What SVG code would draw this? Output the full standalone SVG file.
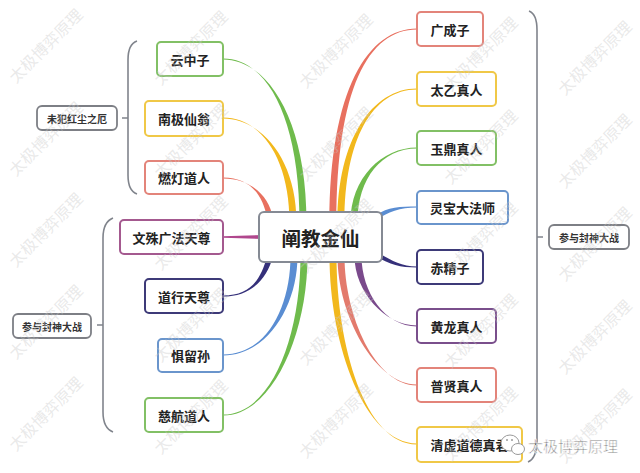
<svg xmlns="http://www.w3.org/2000/svg" width="640" height="473" viewBox="0 0 640 473">
<style>
.box{fill:#fff;stroke-width:2}
.t{font-family:"Noto Sans CJK SC","Noto Sans",sans-serif;font-weight:bold;font-size:13px;fill:#222;text-anchor:middle;dominant-baseline:central}
.lb{fill:#fff;stroke:#7d7f85;stroke-width:1.8}
.lt{font-family:"Noto Sans CJK SC","Noto Sans",sans-serif;font-weight:bold;font-size:10px;fill:#333;text-anchor:middle;dominant-baseline:central}
.br{fill:none;stroke:#80848c;stroke-width:1.6}
.wm{font-family:"Noto Sans CJK SC",sans-serif;font-size:16px;fill:#c8c8c8;fill-opacity:0.4;text-anchor:middle;dominant-baseline:central}
.g{stroke:#82c065}.y{stroke:#f0c847}.r{stroke:#e3847a}.m{stroke:#a4598f}.nv{stroke:#3d3a78}.b{stroke:#6a95cc}.p{stroke:#7a4f8c}
</style>
<rect width="640" height="473" fill="#fff"/>
<g id="connectors">
<path fill="#6fbb4c" d="M223,58.5 C268,58.5 299.5,120 299.5,222 L306.5,222 C306.5,120 268,59.5 223,59.5 Z"/>
<path fill="#f2b81c" d="M223,117.5 C262,117.5 289.5,160 289.5,222 L296.5,222 C296.5,160 262,118.5 223,118.5 Z"/>
<path fill="#e8705f" d="M223,177.5 C250,177.5 263,195 267,218 L273,218 C269,195 250,178.5 223,178.5 Z"/>
<path fill="#b0478d" d="M223,236.3 L265,235 L265,239 L223,237.7 Z"/>
<path fill="#35307a" d="M223,295.5 C250,295.5 261,280 267,256 L273,256 C267,280 250,296.5 223,296.5 Z"/>
<path fill="#5a8dd2" d="M223,354.5 C268,354.5 290.5,305 290.5,256 L297.5,256 C297.5,305 268,355.5 223,355.5 Z"/>
<path fill="#6fbb4c" d="M223,414.5 C272,414.5 300.5,335 300.5,256 L307.5,256 C307.5,335 272,415.5 223,415.5 Z"/>
<path fill="#e8705f" d="M417,28.5 C368,28.5 329.5,90 329.5,222 L336.5,222 C336.5,90 368,29.5 417,29.5 Z"/>
<path fill="#f2b81c" d="M417,88.5 C372,88.5 337.5,140 337.5,222 L344.5,222 C344.5,140 372,89.5 417,89.5 Z"/>
<path fill="#6fbb4c" d="M417,147.5 C382,147.5 350.5,178 350.5,222 L357.5,222 C357.5,178 382,148.5 417,148.5 Z"/>
<path fill="#5a8dd2" d="M417,206.5 C400,206.5 388,206.5 376,215.5 L376,220.5 C388,211.5 400,207.5 417,207.5 Z"/>
<path fill="#35307a" d="M417,266.5 C400,266.5 390,259.5 376,251.5 L376,256.5 C390,264.5 400,267.5 417,267.5 Z"/>
<path fill="#7a4a8c" d="M417,325.5 C385,325.5 354.5,292 354.5,256 L361.5,256 C361.5,292 385,326.5 417,326.5 Z"/>
<path fill="#e37a6c" d="M417,384.5 C375,384.5 337.5,315 337.5,256 L344.5,256 C344.5,315 375,385.5 417,385.5 Z"/>
<path fill="#f2b81c" d="M417,443.5 C365,443.5 329.5,345 329.5,256 L336.5,256 C336.5,345 365,444.5 417,444.5 Z"/>
<path class="br" stroke="#5a5a5a" d="M137,41 Q128,44 128,60 L128,175 Q128,191 137,194 M122,118 L128,118"/>
<path class="br" d="M113,218 Q103,222 103,238 L103,412 Q103,428 113,432 M97,325 L103,325"/>
<path class="br" d="M529,11 Q537,14 537,30 L537,440 Q537,458 528,462 M537,237 L543,237"/>
</g>
<g id="center"><rect x="259" y="212" width="123" height="50" rx="5" fill="#fff" stroke="#858a94" stroke-width="2"/><text x="320.5" y="237" class="t" style="font-size:19.5px">阐教金仙</text></g>
<g id="n1"><rect class="box g" x="157" y="42" width="66" height="34" rx="4"/><text class="t" x="190" y="59">云中子</text></g>
<g id="n2"><rect class="box y" x="145" y="101" width="78" height="35" rx="4"/><text class="t" x="184" y="118.5">南极仙翁</text></g>
<g id="n3"><rect class="box r" x="145" y="161" width="78" height="33" rx="4"/><text class="t" x="184" y="177.5">燃灯道人</text></g>
<g id="n4"><rect class="box m" x="120" y="220" width="103" height="34" rx="4"/><text class="t" x="171.5" y="237">文殊广法天尊</text></g>
<g id="n5"><rect class="box nv" x="145" y="279" width="78" height="34" rx="4"/><text class="t" x="184" y="296">道行天尊</text></g>
<g id="n6"><rect class="box b" x="158" y="339" width="65" height="33" rx="4"/><text class="t" x="190.5" y="355.5">惧留孙</text></g>
<g id="n7"><rect class="box g" x="145" y="398" width="78" height="34" rx="4"/><text class="t" x="184" y="415">慈航道人</text></g>
<g id="n8"><rect class="box r" x="417" y="12" width="66" height="34" rx="4"/><text class="t" x="450" y="29">广成子</text></g>
<g id="n9"><rect class="box y" x="417" y="72" width="79" height="34" rx="4"/><text class="t" x="456.5" y="89">太乙真人</text></g>
<g id="n10"><rect class="box g" x="417" y="131" width="79" height="34" rx="4"/><text class="t" x="456.5" y="148">玉鼎真人</text></g>
<g id="n11"><rect class="box b" x="417" y="191" width="91" height="33" rx="4"/><text class="t" x="462.5" y="207.5">灵宝大法师</text></g>
<g id="n12"><rect class="box nv" x="417" y="250" width="66" height="34" rx="4"/><text class="t" x="450" y="267">赤精子</text></g>
<g id="n13"><rect class="box p" x="417" y="309" width="79" height="34" rx="4"/><text class="t" x="456.5" y="326">黄龙真人</text></g>
<g id="n14"><rect class="box r" x="417" y="368" width="79" height="34" rx="4"/><text class="t" x="456.5" y="385">普贤真人</text></g>
<g id="n15"><rect class="box y" x="417" y="427" width="105" height="35" rx="4"/><text class="t" x="469.5" y="444.5">清虚道德真君</text></g>
<g id="l1"><rect class="lb" x="37" y="106" width="80" height="24" rx="5"/><text class="lt" x="77" y="118">未犯红尘之厄</text></g>
<g id="l2"><rect class="lb" x="13" y="314" width="78" height="24" rx="5"/><text class="lt" x="52" y="326">参与封神大战</text></g>
<g id="l3"><rect class="lb" x="549" y="225" width="80" height="24" rx="5"/><text class="lt" x="589" y="237">参与封神大战</text></g>
<g id="watermarks">
<text class="wm" transform="translate(45,45) rotate(-45)">太极博弈原理</text>
<text class="wm" transform="translate(45,138) rotate(-45)">太极博弈原理</text>
<text class="wm" transform="translate(45,229) rotate(-45)">太极博弈原理</text>
<text class="wm" transform="translate(45,321) rotate(-45)">太极博弈原理</text>
<text class="wm" transform="translate(45,413) rotate(-45)">太极博弈原理</text>
<text class="wm" transform="translate(190,47) rotate(-45)">太极博弈原理</text>
<text class="wm" transform="translate(190,140) rotate(-45)">太极博弈原理</text>
<text class="wm" transform="translate(190,232) rotate(-45)">太极博弈原理</text>
<text class="wm" transform="translate(190,324) rotate(-45)">太极博弈原理</text>
<text class="wm" transform="translate(190,416) rotate(-45)">太极博弈原理</text>
<text class="wm" transform="translate(335,50) rotate(-45)">太极博弈原理</text>
<text class="wm" transform="translate(335,143) rotate(-45)">太极博弈原理</text>
<text class="wm" transform="translate(335,235) rotate(-45)">太极博弈原理</text>
<text class="wm" transform="translate(335,327) rotate(-45)">太极博弈原理</text>
<text class="wm" transform="translate(335,420) rotate(-45)">太极博弈原理</text>
<text class="wm" transform="translate(480,53) rotate(-45)">太极博弈原理</text>
<text class="wm" transform="translate(480,146) rotate(-45)">太极博弈原理</text>
<text class="wm" transform="translate(480,238) rotate(-45)">太极博弈原理</text>
<text class="wm" transform="translate(480,330) rotate(-45)">太极博弈原理</text>
<text class="wm" transform="translate(480,423) rotate(-45)">太极博弈原理</text>
<text class="wm" transform="translate(594,57) rotate(-45)">太极博弈原理</text>
<text class="wm" transform="translate(594,150) rotate(-45)">太极博弈原理</text>
<text class="wm" transform="translate(594,243) rotate(-45)">太极博弈原理</text>
<text class="wm" transform="translate(594,336) rotate(-45)">太极博弈原理</text>
<text class="wm" transform="translate(594,425) rotate(-45)">太极博弈原理</text>
</g>
<g id="logo">
<ellipse cx="510" cy="443" rx="9" ry="8" fill="#fff" stroke="#9a9a9a" stroke-width="1"/>
<ellipse cx="518" cy="449" rx="6.5" ry="5.5" fill="#fff" stroke="#9a9a9a" stroke-width="1"/>
<circle cx="507" cy="440" r="1" fill="#9a9a9a"/><circle cx="512" cy="440" r="1" fill="#9a9a9a"/>
<text x="573" y="445" font-family="'Noto Sans CJK SC',sans-serif" font-size="15" fill="#5e5e5e" stroke="#fff" stroke-width="0.6" text-anchor="middle" dominant-baseline="central">太极博弈原理</text>
</g>
</svg>
